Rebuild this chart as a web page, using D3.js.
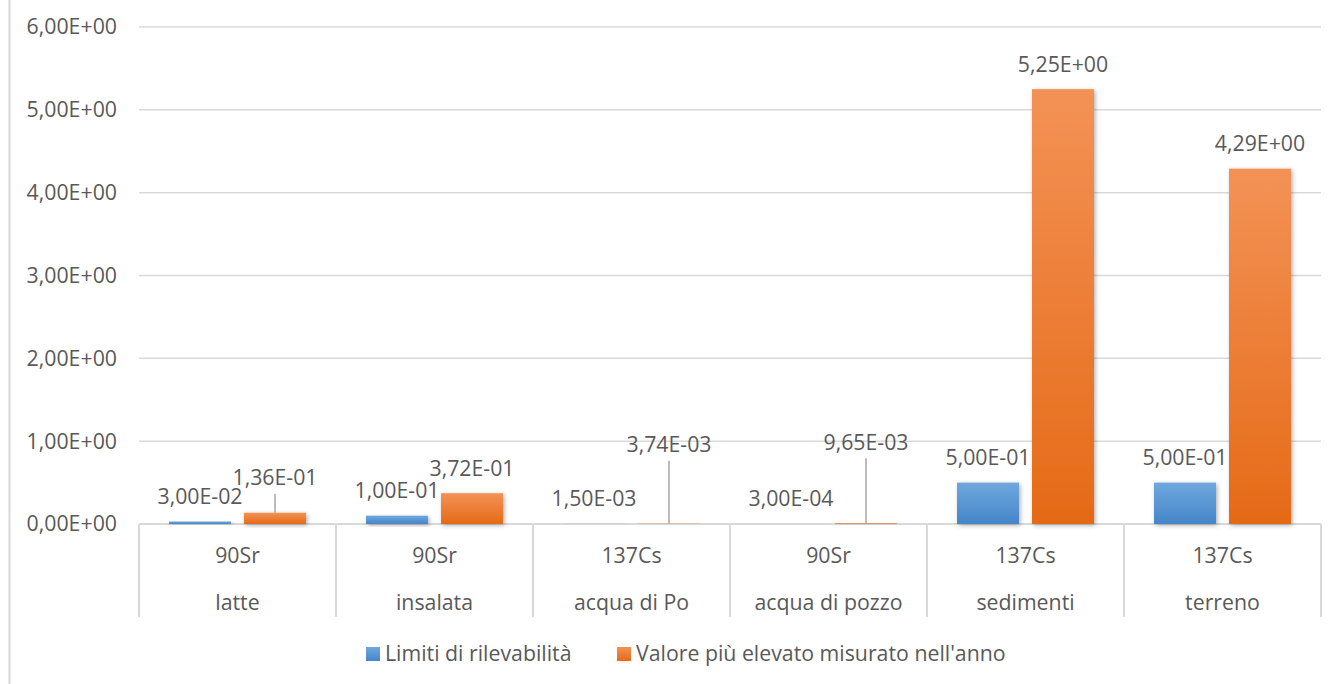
<!DOCTYPE html>
<html lang="it">
<head>
<meta charset="utf-8">
<title>Limiti di rilevabilità e valori misurati</title>
<script src="https://cdn.jsdelivr.net/npm/d3@7"></script>
<style>
  html, body { margin: 0; padding: 0; background: #fff; }
  svg { display: block; font-family: "Open Sans", Lato, sans-serif; }
  text { fill: #595959; }
</style>
</head>
<body>
<svg id="chart" width="1338" height="684"></svg>
<script>
// Matrici e radionuclidi (due livelli di etichette sull'asse x)
const matrici = ["latte", "insalata", "acqua di Po", "acqua di pozzo", "sedimenti", "terreno"];
const nuclidi = ["90Sr", "90Sr", "137Cs", "90Sr", "137Cs", "137Cs"];

// Serie
const serieNomi = ["Limiti di rilevabilità", "Valore più elevato misurato nell'anno"];
const limiti = [3.00e-2, 1.00e-1, 1.50e-3, 3.00e-4, 5.00e-1, 5.00e-1];
const valoriMax = [1.36e-1, 3.72e-1, 3.74e-3, 9.65e-3, 5.25e+0, 4.29e+0];

// Tacche dell'asse y
const yTicks = [0, 1, 2, 3, 4, 5, 6];

// Sollevamento delle etichette (px sopra la barra); oltre la soglia si traccia una linea guida
const sollevamentoLimiti = [25, 25, 25, 25, 25, 25];
const sollevamentoMax = [35, 25, 79, 81, 25, 25];

const colori = [
  { top: "#6FA8DE", bottom: "#4585C8" },
  { top: "#F39256", bottom: "#E56A17" }
];

// Formato scientifico con virgola decimale: 3,00E-02
function fmtSci(v) {
  const [m, e] = v.toExponential(2).split("e");
  const sign = e[0] === "-" ? "-" : "+";
  const exp = String(Math.abs(+e)).padStart(2, "0");
  return m.replace(".", ",") + "E" + sign + exp;
}

const svg = d3.select("#chart");
const plot = { left: 139, right: 1321, top: 27, bottom: 524, axisBottom: 617 };
const fontSize = 21.3;

const defs = svg.append("defs");
colori.forEach((c, i) => {
  const g = defs.append("linearGradient")
    .attr("id", "grad" + i).attr("x1", 0).attr("y1", 0).attr("x2", 0).attr("y2", 1);
  g.append("stop").attr("offset", "0%").attr("stop-color", c.top);
  g.append("stop").attr("offset", "100%").attr("stop-color", c.bottom);
});
const shadow = defs.append("filter").attr("id", "ombra")
  .attr("x", "-20%").attr("y", "-20%").attr("width", "150%").attr("height", "150%");
shadow.append("feDropShadow").attr("dx", 1.5).attr("dy", 1.5).attr("stdDeviation", 2)
  .attr("flood-color", "#000").attr("flood-opacity", 0.3);

// Bordo dell'area grafico
svg.append("line").attr("x1", 9.5).attr("x2", 9.5).attr("y1", 0).attr("y2", 684)
  .attr("stroke", "#d9d9d9").attr("stroke-width", 2);

const x = d3.scaleBand().domain(matrici).range([plot.left, plot.right]).paddingInner(0).paddingOuter(0);
const xSub = d3.scaleBand().domain([0, 1]).range([0, x.bandwidth()]).paddingInner(13 / 75).paddingOuter(0.4);
const y = d3.scaleLinear().domain([0, 6]).range([plot.bottom, plot.top]);

// Griglia orizzontale
svg.append("g").selectAll("line").data(yTicks.filter(t => t > 0)).join("line")
  .attr("x1", plot.left).attr("x2", plot.right)
  .attr("y1", d => y(d)).attr("y2", d => y(d))
  .attr("stroke", "#d9d9d9").attr("stroke-width", 1.5);

// Etichette dell'asse y
svg.append("g").selectAll("text").data(yTicks).join("text")
  .attr("x", 117).attr("y", d => y(d)).attr("dy", "0.35em")
  .attr("text-anchor", "end").attr("font-size", fontSize)
  .text(d => fmtSci(d));

// Asse x con separatori tra le categorie
const axisG = svg.append("g");
axisG.append("line").attr("x1", plot.left).attr("x2", plot.right)
  .attr("y1", plot.bottom).attr("y2", plot.bottom)
  .attr("stroke", "#d9d9d9").attr("stroke-width", 2);
const confini = matrici.map(m => x(m)).concat([plot.right]);
axisG.selectAll("line.sep").data(confini).join("line").attr("class", "sep")
  .attr("x1", d => d).attr("x2", d => d)
  .attr("y1", plot.bottom).attr("y2", plot.axisBottom)
  .attr("stroke", "#d9d9d9").attr("stroke-width", 2);
axisG.selectAll("text.nuc").data(matrici).join("text").attr("class", "nuc")
  .attr("x", d => x(d) + x.bandwidth() / 2).attr("y", 563)
  .attr("text-anchor", "middle").attr("font-size", fontSize)
  .text((d, i) => nuclidi[i]);
axisG.selectAll("text.mat").data(matrici).join("text").attr("class", "mat")
  .attr("x", d => x(d) + x.bandwidth() / 2).attr("y", 610)
  .attr("text-anchor", "middle").attr("font-size", fontSize)
  .text(d => d);

// Barre
const serie = [limiti, valoriMax];
const sollevamenti = [sollevamentoLimiti, sollevamentoMax];
serie.forEach((vals, s) => {
  const g = svg.append("g");
  g.selectAll("rect").data(vals).join("rect")
    .attr("x", (d, i) => x(matrici[i]) + xSub(s))
    .attr("width", xSub.bandwidth())
    .attr("y", d => y(d))
    .attr("height", d => plot.bottom - y(d))
    .attr("fill", "url(#grad" + s + ")")
    .attr("filter", "url(#ombra)");
});

// Etichette dei valori e linee guida
serie.forEach((vals, s) => {
  const g = svg.append("g");
  vals.forEach((d, i) => {
    const cx = x(matrici[i]) + xSub(s) + xSub.bandwidth() / 2;
    const top = y(d);
    const lift = sollevamenti[s][i];
    const cy = top - lift;
    if (lift > 30) {
      g.append("line").attr("x1", cx).attr("x2", cx)
        .attr("y1", cy + 16).attr("y2", top)
        .attr("stroke", "#a6a6a6").attr("stroke-width", 1.5);
    }
    g.append("text").attr("x", cx).attr("y", cy).attr("dy", "0.35em")
      .attr("text-anchor", "middle").attr("font-size", fontSize)
      .text(fmtSci(d));
  });
});

// Legenda
const legenda = svg.append("g");
const legX = [366, 617];
serieNomi.forEach((n, s) => {
  legenda.append("rect").attr("x", legX[s]).attr("y", 647).attr("width", 14).attr("height", 14)
    .attr("fill", "url(#grad" + s + ")");
  legenda.append("text").attr("x", legX[s] + 19).attr("y", 661)
    .attr("font-size", fontSize).text(n);
});
</script>
</body>
</html>
